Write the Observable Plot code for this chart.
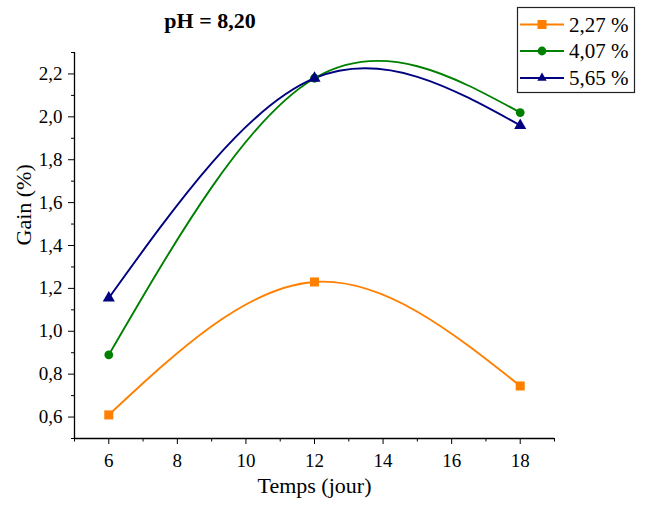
<!DOCTYPE html>
<html>
<head>
<meta charset="utf-8">
<script src="https://cdn.jsdelivr.net/npm/d3@7"></script>
<script src="https://cdn.jsdelivr.net/npm/@observablehq/plot@0.6"></script>
<style>
  html, body { margin: 0; padding: 0; background: #fff; }
  #wrap { position: relative; width: 646px; height: 506px; font-family: "Liberation Serif", "Times New Roman", serif; }
  #title { position: absolute; left: 110px; width: 200px; top: 6px; text-align: center; font-weight: bold; font-size: 22px; color: #000; line-height: 30px; }
</style>
</head>
<body>
<div id="wrap">
  <div id="title">pH = 8,20</div>
</div>
<script>
// ---- data ----
const days = [6, 12, 18];
const seriesNames = ["2,27 %", "4,07 %", "5,65 %"];
const gain227 = [0.61, 1.23, 0.745];
const gain407 = [0.89, 2.18, 2.02];
const gain565 = [1.155, 2.18, 1.96];
const seriesColors = ["#FF8000", "#008000", "#000080"];
const seriesSymbols = ["square", "circle", "triangle"];
const yMajorTicks = [0.6, 0.8, 1.0, 1.2, 1.4, 1.6, 1.8, 2.0, 2.2];
const yMinorTicks = [0.5, 0.7, 0.9, 1.1, 1.3, 1.5, 1.7, 1.9, 2.1, 2.3];
const xMajorTicks = [6, 8, 10, 12, 14, 16, 18];
const xMinorTicks = [5, 7, 9, 11, 13, 15, 17, 19];

const allGains = [gain227, gain407, gain565];
const rows = allGains.map((vals, i) => days.map((d, j) => ({day: d, gain: vals[j], series: seriesNames[i]})));

const fmt = d => d.toFixed(1).replace(".", ",");
const symR = {square: 5.1, circle: 4.4, triangle: 4.5};
const serif = "'Liberation Serif', 'Times New Roman', serif";

const marks = [
  Plot.axisY({ticks: yMajorTicks, tickSize: 6, tickPadding: 6, tickFormat: fmt, label: null, fontSize: 19}),
  Plot.axisY({ticks: yMinorTicks, tickSize: 3, tickFormat: () => "", label: null}),
  Plot.axisX({ticks: xMajorTicks, tickSize: 6, tickPadding: 9, tickFormat: d => String(d), label: null, fontSize: 19}),
  Plot.axisX({ticks: xMinorTicks, tickSize: 3.5, tickFormat: () => "", label: null}),
  Plot.ruleX([5], {stroke: "#000", strokeWidth: 1.3}),
  Plot.ruleY([0.5], {stroke: "#000", strokeWidth: 1.3}),
  Plot.text(["Gain (%)"], {frameAnchor: "left", dx: -51, rotate: -90, fontSize: 22, fill: "#000"}),
  Plot.text(["Temps (jour)"], {frameAnchor: "bottom", dy: 54, fontSize: 22, fill: "#000"})
];
rows.forEach((r, i) => {
  marks.push(Plot.line(r, {x: "day", y: "gain", curve: "natural", stroke: seriesColors[i], strokeWidth: 1.9}));
});
rows.forEach((r, i) => {
  marks.push(Plot.dot(r, {x: "day", y: "gain", symbol: seriesSymbols[i], fill: seriesColors[i], stroke: "none", r: symR[seriesSymbols[i]]}));
});

const chart = Plot.plot({
  width: 646,
  height: 506,
  marginTop: 52,
  marginLeft: 74,
  marginRight: 92,
  marginBottom: 68,
  x: {domain: [5, 19]},
  y: {domain: [0.5, 2.3]},
  style: {fontFamily: serif, fontSize: "19px", color: "#000", background: "white"},
  marks
});
document.getElementById("wrap").appendChild(chart);

// ---- legend ----
const lg = d3.select("#wrap").append("svg")
  .attr("width", 646).attr("height", 110)
  .style("position", "absolute").style("left", "0px").style("top", "0px");
lg.append("rect").attr("x", 517.5).attr("y", 7.5).attr("width", 117).attr("height", 85)
  .attr("fill", "white").attr("stroke", "#222").attr("stroke-width", 1.2);
const rowY = [24.5, 51, 78];
const symFns = {square: d3.symbolSquare, circle: d3.symbolCircle, triangle: d3.symbolTriangle2};
seriesNames.forEach((name, i) => {
  const y = rowY[i];
  lg.append("line").attr("x1", 520).attr("x2", 564).attr("y1", y).attr("y2", y)
    .attr("stroke", seriesColors[i]).attr("stroke-width", 1.8);
  lg.append("path").attr("transform", `translate(542,${y})`)
    .attr("d", d3.symbol(symFns[seriesSymbols[i]], Math.PI * symR[seriesSymbols[i]] ** 2)())
    .attr("fill", seriesColors[i]);
  lg.append("text").attr("x", 569).attr("y", y).attr("dy", "0.35em")
    .attr("font-family", serif).attr("font-size", 21).attr("fill", "#000")
    .text(name);
});
</script>
</body>
</html>
